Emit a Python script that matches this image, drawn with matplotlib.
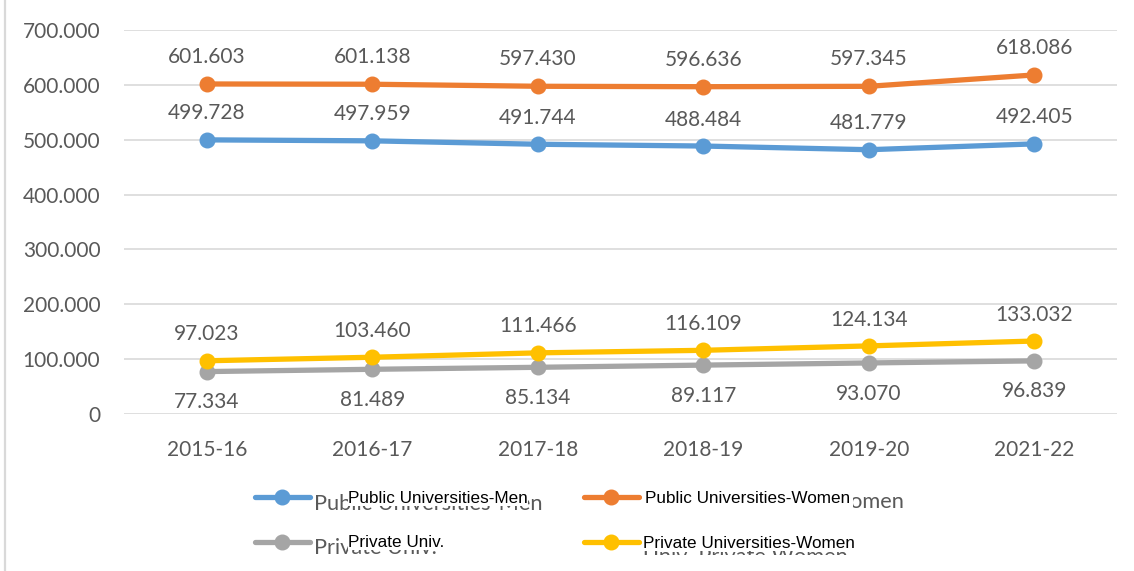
import matplotlib
matplotlib.use('Agg')
import matplotlib.pyplot as plt
from matplotlib.lines import Line2D
from matplotlib.transforms import Bbox

years = ['2015-16', '2016-17', '2017-18', '2018-19', '2019-20', '2021-22']
pub_men = [499.728, 497.959, 491.744, 488.484, 481.779, 492.405]
pub_women = [601.603, 601.138, 597.430, 596.636, 597.345, 618.086]
priv_men = [77.334, 81.489, 85.134, 89.117, 93.070, 96.839]
priv_women = [97.023, 103.460, 111.466, 116.109, 124.134, 133.032]
yticks = [0, 100, 200, 300, 400, 500, 600, 700]

W, H = 1134, 571
TXT = '#595959'
GRID = '#D9D9D9'
FONT = 'Lato'

def px(x, y):
    # pixel position (from top left) -> figure fraction
    return x / W, 1 - y / H

fig = plt.figure(figsize=(W / 100, H / 100), dpi=100)
ax = fig.add_axes([124 / W, 1 - 414 / H, (1117 - 124) / W, (414 - 30) / H])

xs = list(range(len(years)))
series = [
    (pub_men, '#5B9BD5', 19),
    (pub_women, '#ED7D31', 19.5),
    (priv_men, '#A5A5A5', -22),
    (priv_women, '#FFC000', 19),
]
for vals, col, off in series:
    ax.plot(xs, vals, color=col, lw=3.8, marker='o', ms=10.5,
            solid_capstyle='round', zorder=3)
    for x, v in zip(xs, vals):
        ax.annotate(f'{v:.3f}', (x, v), xytext=(0, off), textcoords='offset points',
                    ha='center', va='center', fontsize=15, color=TXT, family=FONT)

ax.set_xlim(-0.5, len(years) - 0.5)
ax.set_ylim(0, 700)
ax.set_yticks(yticks)
ax.set_yticklabels(['0' if v == 0 else f'{v:.3f}' for v in yticks])
ax.set_xticks(xs)
ax.set_xticklabels(years)
ax.tick_params(length=0, labelsize=15, labelcolor=TXT)
ax.tick_params(axis='y', pad=17)
ax.tick_params(axis='x', pad=19)
for lab in ax.get_xticklabels() + ax.get_yticklabels():
    lab.set_family(FONT)
ax.grid(axis='y', color=GRID, lw=1.2)
ax.set_axisbelow(True)
for s in ax.spines.values():
    s.set_visible(False)

# left border of the chart frame
fig.add_artist(Line2D([5 / W, 5 / W], [0, 1], color=GRID, lw=1.6))

# legend (two overlapping text layers, as in the original)
rows = [
    ('#5B9BD5', 255, 497, 'Public Universities-Men', 'Public Universities-Men', 314, 510, 348, 503, 0),
    ('#ED7D31', 584, 497, 'Public Universities-Women', 'Public Universities-Women', 643, 508, 645, 503, 2),
    ('#A5A5A5', 255, 542, 'Private Univ.', 'Private Univ.', 314, 554, 348, 547, 0),
    ('#FFC000', 584, 542, 'Univ. Private Women', 'Private Universities-Women', 643, 563, 643, 548, 0),
]
for col, lx, ly, gtxt, btxt, gx, gy, bx, by, bpad in rows:
    x0, y0 = px(lx, ly)
    x1, _ = px(lx + 55, ly)
    xm, _ = px(lx + 27, ly)
    fig.add_artist(Line2D([x0, x1], [y0, y0], color=col, lw=3.8, solid_capstyle='round'))
    fig.add_artist(Line2D([xm], [y0], color=col, marker='o', ms=10.5))
    g = fig.text(*px(gx, gy), gtxt, fontsize=15.7, color=TXT, family=FONT,
                 va='baseline', ha='left', zorder=2)
    if gy > 560:
        # only the top of this one shows in the original
        g.set_clip_box(Bbox.from_extents(0, H - 555, W, H))
        g.set_clip_on(True)
    fig.text(*px(bx, by), btxt, fontsize=12.3, color='black', family='Liberation Sans',
             va='baseline', ha='left', zorder=4,
             bbox=dict(facecolor='white', edgecolor='none', pad=bpad))

fig.savefig('out.png', dpi=100, facecolor='white')
